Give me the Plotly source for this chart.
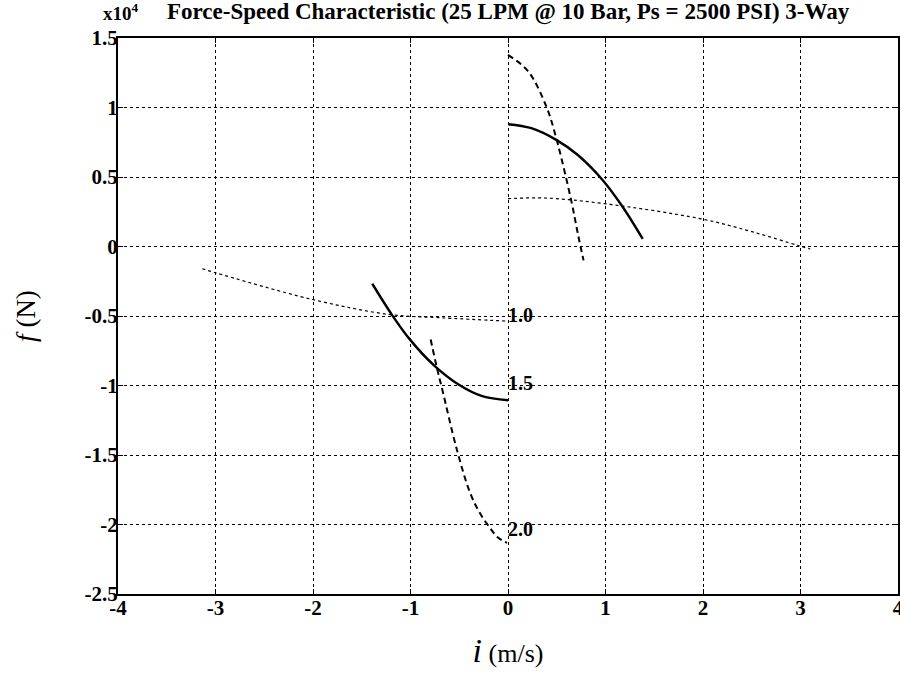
import plotly.graph_objects as go

# ---- data (force in units of 1e4 N, speed in m/s) ----
pos_20_x = [0.0, 0.205, 0.392, 0.495, 0.648, 0.72, 0.775]
pos_20_y = [1.378, 1.262, 1.009, 0.779, 0.332, 0.08, -0.10]
pos_15_x = [0.0, 0.239, 0.495, 0.716, 0.972, 1.177, 1.382]
pos_15_y = [0.880, 0.851, 0.767, 0.658, 0.477, 0.284, 0.054]
pos_10_x = [0.0, 0.375, 0.99, 1.98, 2.52, 2.98, 3.10]
pos_10_y = [0.344, 0.349, 0.308, 0.199, 0.103, 0.006, -0.018]

neg_10_x = [-3.135, -3.0, -2.007, -1.22, -0.674, 0.0]
neg_10_y = [-0.160, -0.189, -0.381, -0.489, -0.513, -0.537]
neg_15_x = [-1.392, -1.187, -1.005, -0.759, -0.503, -0.264, 0.0]
neg_15_y = [-0.268, -0.495, -0.670, -0.855, -0.995, -1.077, -1.106]
neg_20_x = [-0.793, -0.725, -0.674, -0.525, -0.39, -0.29, -0.185, -0.10, -0.01]
neg_20_y = [-0.669, -0.885, -1.029, -1.46, -1.77, -1.916, -2.024, -2.096, -2.132]

curve_labels = ["1.0", "1.5", "2.0"]
label_x = [0.0, 0.0, 0.0]
label_y = [-0.49, -0.98, -2.03]

x_ticks = [-4, -3, -2, -1, 0, 1, 2, 3, 4]
x_ticktext = ["-4", "-3", "-2", "-1", "0", "1", "2", "3", "4"]
y_ticks = [1.5, 1, 0.5, 0, -0.5, -1, -1.5, -2, -2.5]
y_ticktext = ["1.5", "1", "0.5", "0", "-0.5", "-1", "-1.5", "-2", "-2.5"]

title_text = "Force-Speed Characteristic (25 LPM @ 10 Bar, Ps = 2500 PSI) 3-Way"
scale_text = "x10<sup>4</sup>"
x_title = "<i><span style='font-size:34px'>i</span></i> (m/s)"
y_title = "<i>f</i> (N)"

SERIF = "Liberation Serif, Times New Roman, serif"

fig = go.Figure()

def add(x, y, dash, width):
    fig.add_trace(go.Scatter(x=x, y=y, mode="lines", line_shape="spline",
                             line=dict(color="black", width=width, dash=dash),
                             showlegend=False, hoverinfo="skip"))

add(pos_20_x, pos_20_y, "6px,4px", 2)
add(pos_15_x, pos_15_y, "solid", 2.4)
add(pos_10_x, pos_10_y, "dot", 1.2)
add(neg_10_x, neg_10_y, "dot", 1.2)
add(neg_15_x, neg_15_y, "solid", 2.4)
add(neg_20_x, neg_20_y, "6px,4px", 2)

for t, xv, yv in zip(curve_labels, label_x, label_y):
    fig.add_annotation(x=xv, y=yv, text="<b>" + t + "</b>", showarrow=False,
                       xanchor="left", yanchor="middle", xshift=-2,
                       font=dict(family=SERIF, size=20, color="black"))

fig.add_annotation(xref="paper", yref="paper", x=0.0, y=1.0, yshift=12, xshift=-17,
                   text="<b>" + scale_text + "</b>", showarrow=False,
                   xanchor="left", yanchor="bottom",
                   font=dict(family=SERIF, size=19, color="black"))
fig.add_annotation(xref="paper", yref="paper", x=0.5, y=1.0, yshift=11, xshift=0,
                   text="<b>" + title_text + "</b>", showarrow=False,
                   xanchor="center", yanchor="bottom",
                   font=dict(family=SERIF, size=23, color="black"))

axis_common = dict(showline=True, linecolor="black", linewidth=2, mirror="ticks",
                   ticks="inside", ticklen=5, tickcolor="black", tickwidth=1,
                   showgrid=True, gridcolor="black", gridwidth=1, griddash="dot",
                   zeroline=False, ticklabeloverflow="allow", automargin=False,
                   tickfont=dict(family=SERIF, size=21, color="black"))

fig.update_xaxes(range=[-4, 4], tickvals=x_ticks, ticktext=["<b>" + t + "</b>" for t in x_ticktext],
                 ticklabelstandoff=-6,
                 title=dict(text=x_title, font=dict(family=SERIF, size=26, color="black"), standoff=25),
                 **axis_common)
fig.update_yaxes(range=[-2.5, 1.5], tickvals=y_ticks, ticktext=["<b>" + t + "</b>" for t in y_ticktext],
                 ticklabelstandoff=-6,
                 title=dict(text=y_title, font=dict(family=SERIF, size=27, color="black"), standoff=41),
                 **axis_common)

fig.update_layout(width=900, height=676, plot_bgcolor="white", paper_bgcolor="white",
                  margin=dict(l=118, r=2, t=38, b=82, autoexpand=False), showlegend=False)

fig.write_html("out.html", config={"displayModeBar": False},
               post_script="document.body.style.margin='0';document.body.style.overflow='hidden';")
